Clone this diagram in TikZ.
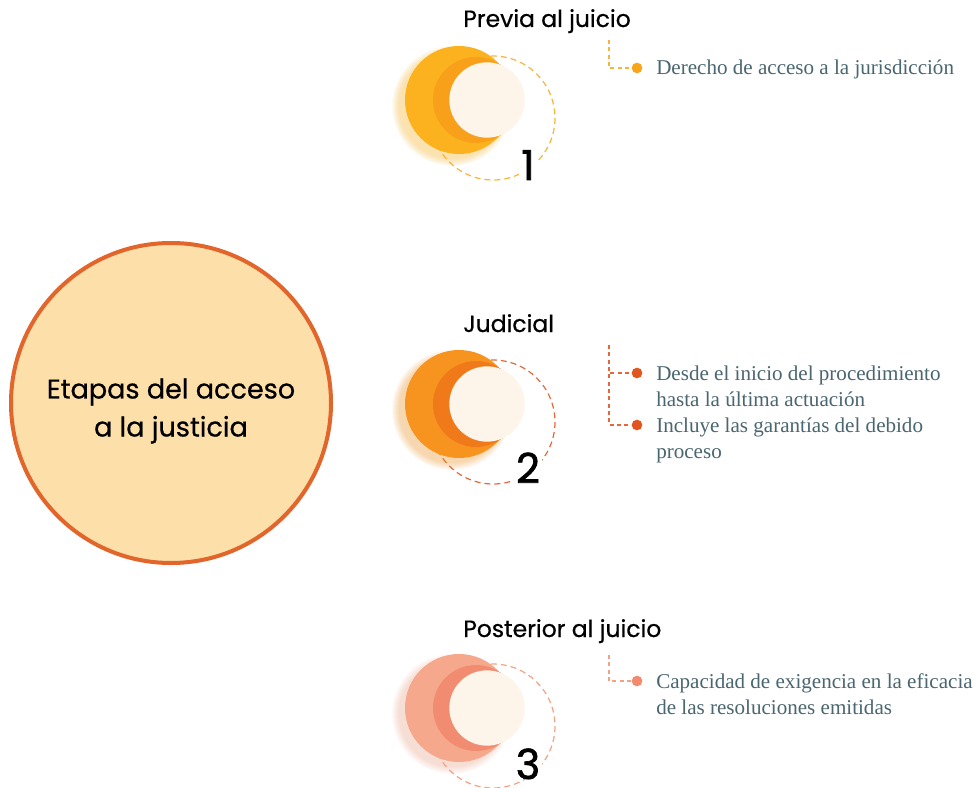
\documentclass[tikz,border=0pt]{standalone}
\usepackage{fontspec}
\newfontfamily\titlefont{Poppins}[FakeBold=0.6]
\newfontfamily\numberfont{Poppins}[FakeBold=1.6]
\newfontfamily\itemfont{Liberation Serif}
\definecolor{mainfill}{HTML}{FDDFAA}
\definecolor{mainborder}{HTML}{E2652B}
\definecolor{cream}{HTML}{FDF5E9}
\definecolor{bodytext}{HTML}{4A6670}
\definecolor{outerA}{HTML}{FBB21E}
\definecolor{midA}{HTML}{F9A01B}
\definecolor{dashA}{HTML}{F9B43A}
\definecolor{dotA}{HTML}{F8A51C}
\definecolor{outerB}{HTML}{F7931F}
\definecolor{midB}{HTML}{F07A1A}
\definecolor{dashB}{HTML}{E4683A}
\definecolor{dotB}{HTML}{E0561E}
\definecolor{outerC}{HTML}{F6A88C}
\definecolor{midC}{HTML}{F18C70}
\definecolor{dashC}{HTML}{F3A285}
\definecolor{dotC}{HTML}{F28A6D}
\tikzset{
  bigcircle/.style={circle, draw=mainborder, line width=3pt, fill=mainfill,
    minimum size=240pt, inner sep=0pt},
  maintextstyle/.style={align=center, text=black, inner sep=0pt,
    font=\titlefont\fontsize{20.3}{28.5}\selectfont},
  outerdisc/.style={circle, fill=#1, minimum size=81pt, inner sep=0pt},
  middisc/.style={circle, fill=#1, minimum size=64.5pt, inner sep=0pt},
  innerdisc/.style={circle, fill=cream, minimum size=56.5pt, inner sep=0pt},
  ring/.style={draw=#1, line width=0.9pt, dash pattern=on 4.5pt off 3pt},
  numlabel/.style={fill=white, inner xsep=1.5pt, inner ysep=0pt, text depth=0pt,
    anchor=base, text=black, font=\numberfont\fontsize{31}{31}\selectfont},
  stagetitle/.style={anchor=base west, inner sep=0pt, text=black,
    font=\titlefont\fontsize{17.6}{20}\selectfont},
  conn/.style={draw=#1, line width=0.8pt, dash pattern=on 3pt off 2.5pt},
  bullet/.style={circle, fill=#1, minimum size=8pt, inner sep=0pt},
  itemtext/.style={anchor=base west, inner sep=0pt, align=left, text=bodytext,
    font=\itemfont\fontsize{15.8}{19.5}\selectfont},
}
\begin{document}
\begin{tikzpicture}[x=0.75pt,y=-0.75pt]
\useasboundingbox (0,0) rectangle (977,788);
\fill[white] (0,0) rectangle (977,788);

% main circle
\node[bigcircle] (main) at (171,403) {};
\node[maintextstyle] (maintext) at (171,411) {Etapas del acceso\\a la justicia};

% stages
\foreach \k/\c/\o/\m/\d/\b in {1/100/outerA/midA/dashA/180, 2/404/outerB/midB/dashB/483, 3/708/outerC/midC/dashC/779}{
  \draw[ring=\d] (493,\c+18) circle (62);
  \foreach \i in {1,...,8}{
    \fill[\o, opacity=0.05] (452,\c+6) circle (52+\i);
  }
  \node[outerdisc=\o] (o\k) at (459,\c) {};
  \node[middisc=\m] (m\k) at (476,\c) {};
  \node[innerdisc] (i\k) at (487,\c) {};
  \node[numlabel] (n\k) at (528,\b) {\k};
}

% titles
\node[stagetitle] (t1) at (463,27) {Previa al juicio};
\node[stagetitle] (t2) at (463,332) {Judicial};
\node[stagetitle] (t3) at (463,637) {Posterior al juicio};

% stage 1 items
\coordinate (c1) at (609,40);
\node[bullet=dotA] (d1) at (637,68) {};
\draw[conn=dashA] (c1) |- (d1);
\node[itemtext] (x1) at (656,75) {Derecho de acceso a la jurisdicción};

% stage 2 items
\coordinate (c2) at (609,345);
\node[bullet=dotB] (d2a) at (637,373) {};
\node[bullet=dotB] (d2b) at (637,425) {};
\draw[conn=dashB] (c2) |- (d2a);
\draw[conn=dashB] (c2) |- (d2b);
\node[itemtext] (x2a) at (656,406) {Desde el inicio del procedimiento\\hasta la última actuación};
\node[itemtext] (x2b) at (656,458) {Incluye las garantías del debido\\proceso};

% stage 3 items
\coordinate (c3) at (609,655);
\node[bullet=dotC] (d3) at (637,681) {};
\draw[conn=dashC] (c3) |- (d3);
\node[itemtext] (x3) at (656,714) {Capacidad de exigencia en la eficacia\\de las resoluciones emitidas};
\end{tikzpicture}
\end{document}
